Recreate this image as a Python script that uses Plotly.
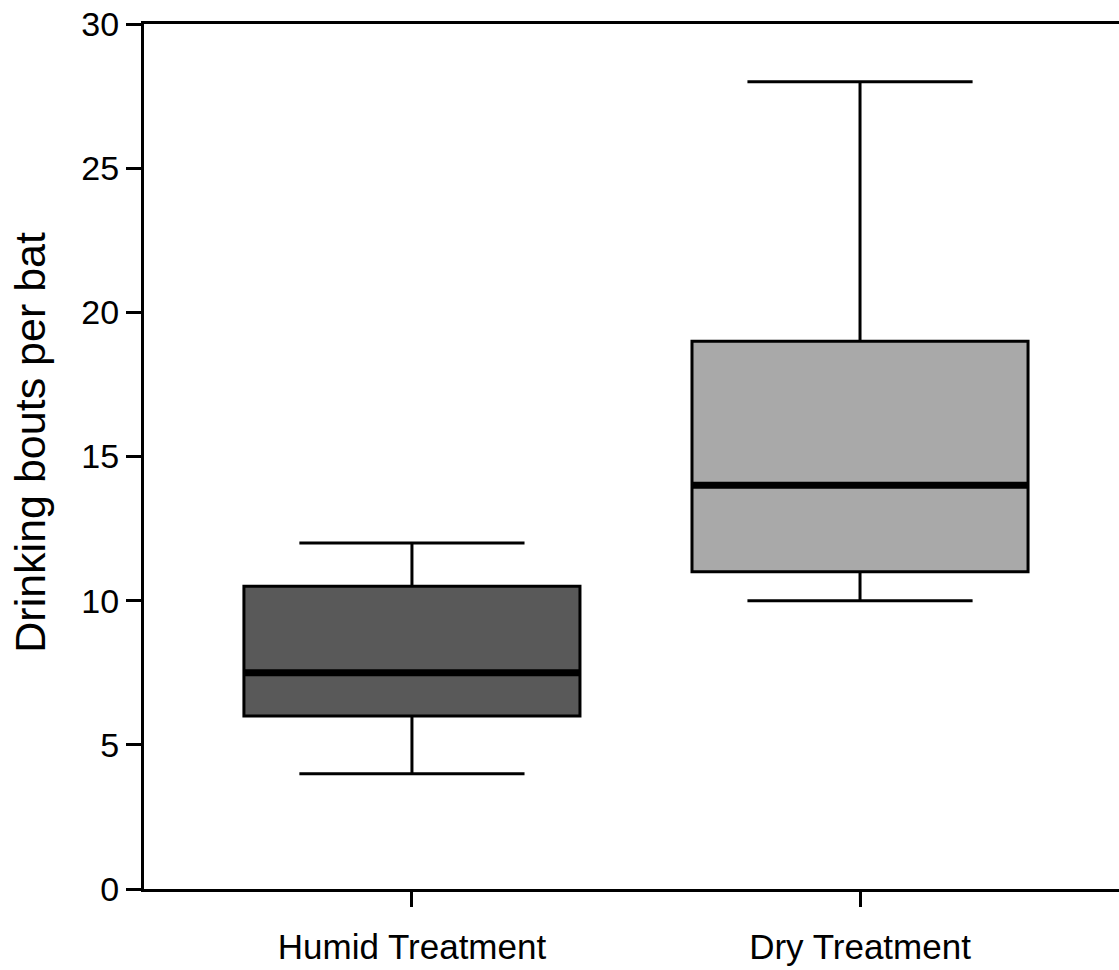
import plotly.graph_objects as go

# Drinking bouts per bat, summarised per treatment
categories = ["Humid Treatment", "Dry Treatment"]
lower_whisker = [4, 10]
q1 = [6, 11]
median = [7.5, 14]
q3 = [10.5, 19]
upper_whisker = [12, 28]
fill_colors = ["#595959", "#a9a9a9"]

y_ticks = [0, 5, 10, 15, 20, 25, 30]

BOX_WIDTH = 0.75
FONT = "Liberation Sans, Arial, sans-serif"

fig = go.Figure()
positions = list(range(len(categories)))

for i, name in enumerate(categories):
    fig.add_trace(go.Box(
        x=[positions[i]],
        q1=[q1[i]],
        median=[median[i]],
        q3=[q3[i]],
        lowerfence=[lower_whisker[i]],
        upperfence=[upper_whisker[i]],
        width=BOX_WIDTH,
        whiskerwidth=0.67,
        fillcolor=fill_colors[i],
        line=dict(color="black", width=3),
        name=name,
        boxpoints=False,
        hoverinfo="skip",
    ))
    # heavier median bar drawn over the box
    fig.add_shape(
        type="line", xref="x", yref="y",
        x0=positions[i] - BOX_WIDTH / 2, x1=positions[i] + BOX_WIDTH / 2,
        y0=median[i], y1=median[i],
        line=dict(color="black", width=7),
    )

fig.update_layout(
    width=1119, height=970,
    margin=dict(l=144, r=0, t=24, b=81),
    paper_bgcolor="white", plot_bgcolor="white",
    showlegend=False,
    font=dict(family=FONT, size=33, color="black"),
    xaxis=dict(
        range=[-0.598, 1.578],
        tickvals=positions, ticktext=categories,
        showline=True, linecolor="black", linewidth=3, mirror=True,
        ticks="outside", ticklen=15, tickwidth=3, tickcolor="black",
        ticklabelstandoff=10,
        showgrid=False, zeroline=False,
        tickfont=dict(size=35),
    ),
    yaxis=dict(
        range=[0, 30],
        tickvals=y_ticks,
        showline=True, linecolor="black", linewidth=3,
        ticks="outside", ticklen=15, tickwidth=3, tickcolor="black",
        showgrid=False, zeroline=False,
        tickfont=dict(size=34),
    ),
    annotations=[dict(
        text="Drinking bouts per bat",
        xref="paper", yref="paper",
        x=-0.117, y=0.517, xanchor="center", yanchor="middle",
        textangle=-90, showarrow=False,
        font=dict(size=43),
    )],
)

fig.write_html("out.html")
